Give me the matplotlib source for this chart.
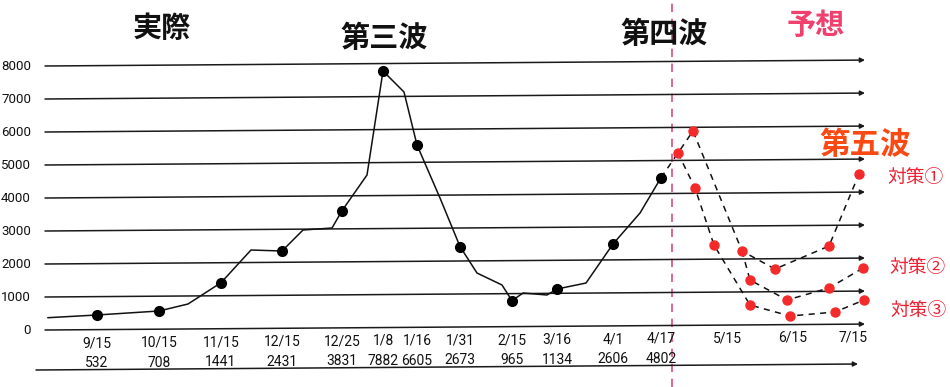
import matplotlib
matplotlib.use("Agg")
import matplotlib.pyplot as plt

# actual data (x = position on the hand-drawn timeline)
actual_dates = ['9/15', '10/15', '11/15', '12/15', '12/25', '1/8', '1/16',
                '1/31', '2/15', '3/16', '4/1', '4/17']
actual_counts = ['532', '708', '1441', '2431', '3831', '7882', '6605',
                 '2673', '965', '1134', '2606', '4802']
date_pos = [97, 159, 221, 282, 342, 383, 417, 460, 512, 557, 613, 661]
marker_vals = [455, 576, 1433, 2394, 3615, 7848, 5606, 2530, 888, 1242, 2606, 4615]

# full drawn curve, with the unmarked bends in between
curve_pos = [48, 97, 159, 188, 221, 251, 282, 303, 332, 342, 367, 383, 404,
             417, 440, 460, 477, 502, 512, 523, 547, 557, 586, 613, 640, 661]
curve_vals = [373, 455, 576, 788, 1433, 2424, 2394, 3030, 3091, 3615, 4697,
              7848, 7212, 5606, 4000, 2530, 1727, 1364, 888, 1121, 1061, 1242,
              1424, 2606, 3545, 4615]

# forecast
future_dates = ['5/15', '6/15', '7/15']
future_pos = [727, 793, 853]
plan1_pos = [661, 678, 693, 742, 775, 829, 859]
plan1_vals = [4615, 5364, 6030, 2394, 1848, 2545, 4727]
plan2_pos = [742, 750, 787, 829, 863]
plan2_vals = [2394, 1515, 909, 1273, 1879]
plan3_pos = [678, 695, 714, 750, 790, 835, 864]
plan3_vals = [5364, 4303, 2576, 758, 424, 545, 909]

grid_vals = [0, 1000, 2000, 3000, 4000, 5000, 6000, 7000, 8000]

num_font = ['Roboto', 'DejaVu Sans']
jp_font = ['Noto Sans CJK JP', 'DejaVu Sans']
tilt = 180 / 820  # lines rise a little toward the right

fig = plt.figure(figsize=(9.5, 3.87), dpi=100)
ax = fig.add_axes([0, 0, 1, 1])
ax.set_xlim(0, 950)
ax.set_ylim(-1727, 10000)
ax.axis('off')


def ypix(p):
    # heading rows given in pixels from the top
    return 10000 - p / 0.033


arrow = dict(arrowstyle='-|>', lw=1.1, color='#1a1a1a', mutation_scale=7,
             shrinkA=0, shrinkB=0)

# horizontal lines with arrow heads
for v in grid_vals:
    ax.annotate('', xy=(865, v + 180), xytext=(45, v), arrowprops=arrow)
    ax.text(31, v, str(v), ha='right', va='center', fontsize=9.5,
            family=num_font, color='#111')
ax.annotate('', xy=(858, -1030), xytext=(36, -1212), arrowprops=arrow)

# date / count rows
for x, d, c in zip(date_pos, actual_dates, actual_counts):
    ax.text(x, -406 + (x - 45) * tilt, d, ha='center', va='center',
            fontsize=10, family=num_font, color='#111')
    ax.text(x, -1012 + (x - 45) * tilt, c, ha='center', va='center',
            fontsize=10, family=num_font, color='#111')
for x, d in zip(future_pos, future_dates):
    ax.text(x, -406 + (x - 45) * tilt, d, ha='center', va='center',
            fontsize=10, family=num_font, color='#111')

# actual curve
ax.plot(curve_pos, curve_vals, color='#111', lw=1.1, zorder=3)
ax.plot(date_pos, marker_vals, 'o', color='black', ms=7, zorder=4)

# forecast branches
for px, pv in [(plan1_pos, plan1_vals), (plan2_pos, plan2_vals), (plan3_pos, plan3_vals)]:
    ax.plot(px, pv, color='#111', lw=1.1, ls=(0, (4, 3.5)), zorder=3)
red = '#f42a2a'
ax.plot(plan1_pos[1:], plan1_vals[1:], 'o', color=red, ms=6.5, zorder=4)
ax.plot(plan2_pos[1:], plan2_vals[1:], 'o', color=red, ms=6.5, zorder=4)
ax.plot(plan3_pos[1:], plan3_vals[1:], 'o', color=red, ms=6.5, zorder=4)

# separator between actual and forecast
ax.axvline(672, color='#dd4c7c', lw=1.2, ls=(0, (5, 4)), zorder=2)

# headings
ax.text(162, ypix(28), '実際', ha='center', va='center',
        fontsize=21, fontweight='bold', family=jp_font, color='#111')
ax.text(384, ypix(38), '第三波', ha='center', va='center',
        fontsize=21, fontweight='bold', family=jp_font, color='#111')
ax.text(664, ypix(34), '第四波', ha='center', va='center',
        fontsize=21, fontweight='bold', family=jp_font, color='#111')
ax.text(816, ypix(25), '予想', ha='center', va='center',
        fontsize=21, fontweight='bold', family=jp_font, color='#f0406e')
ax.text(865, ypix(145), '第五波', ha='center', va='center',
        fontsize=22, fontweight='bold', family=jp_font, color='#fa4a14')
ax.text(887, ypix(177), '対策①', ha='left', va='center',
        fontsize=13.5, family=jp_font, color='#ee2233')
ax.text(889, ypix(267), '対策②', ha='left', va='center',
        fontsize=13.5, family=jp_font, color='#ee2233')
ax.text(890, ypix(310), '対策③', ha='left', va='center',
        fontsize=13.5, family=jp_font, color='#ee2233')

fig.savefig('out.png', dpi=100)
